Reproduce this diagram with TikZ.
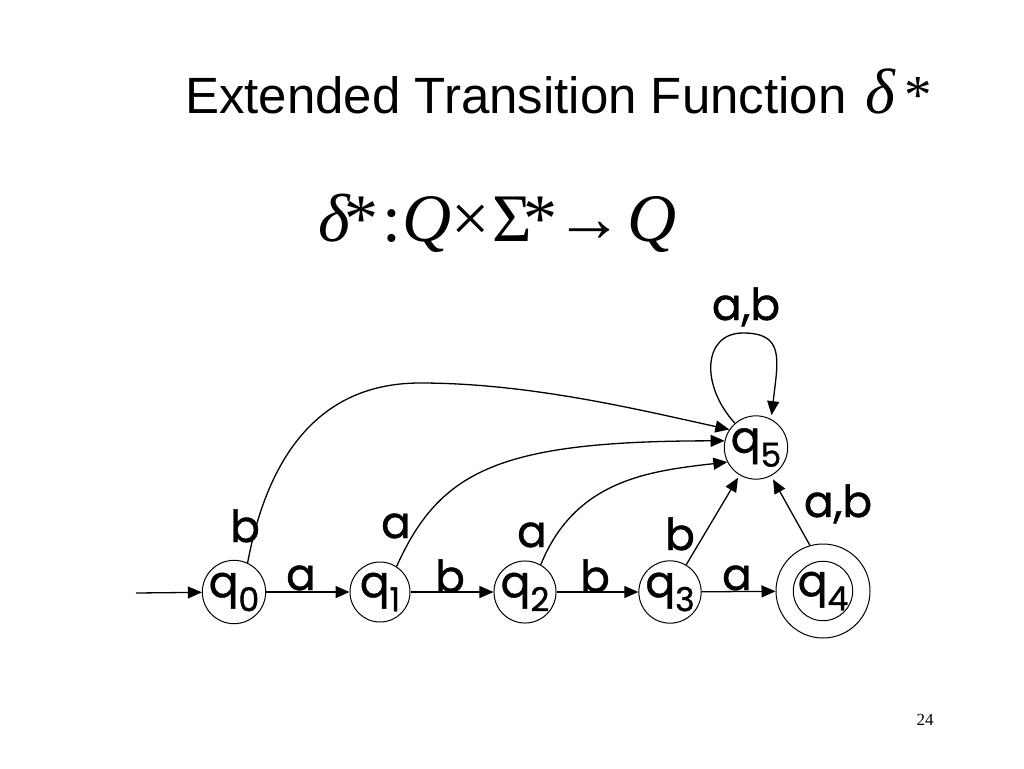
\documentclass[tikz,border=0pt]{standalone}
\usepackage{fontspec}
\setmainfont{Liberation Serif}
\newfontfamily\titlefont{Liberation Sans}
\newfontfamily\serifit{Liberation Serif}
\newfontfamily\lblfont{Poppins}[FakeBold=1]
\usetikzlibrary{arrows.meta}
\tikzset{
  state/.style={circle,draw,line width=1pt,minimum size=60pt,inner sep=0pt,font=\lblfont\fontsize{44}{44}\selectfont},
  edge/.style={line width=1.3pt,-{Triangle[length=14pt,width=12pt]}},
  lbl/.style={anchor=base,inner sep=0pt,font=\lblfont\fontsize{44}{44}\selectfont},
  fml/.style={anchor=base,inner sep=0pt,font=\serifit\fontsize{68}{68}\selectfont},
}
\newcommand{\qsub}[1]{q\raisebox{-14pt}{\fontsize{33}{33}\selectfont #1}}
\begin{document}
\begin{tikzpicture}[x=1pt,y=-1pt]
\useasboundingbox (0,0) rectangle (1024,768);
% title
\node[anchor=base west,inner sep=0pt,font=\titlefont\fontsize{51}{51}\selectfont] (title) at (185,113) {Extended Transition Function};
\node[anchor=base,inner sep=0pt,font=\serifit\fontsize{64}{64}\selectfont] (tdelta) at (880,113) {\itshape δ};
\node[anchor=base,inner sep=0pt,font=\serifit\fontsize{55}{55}\selectfont] (tast) at (918,113) {*};
% formula
\node[fml] (f1) at (334,241) {\itshape δ};
\node[fml] (f2) at (361,241) {*};
\node[fml] (f3) at (391.5,241) {:};
\node[fml] (f4) at (427.5,241) {\itshape Q};
\node[fml] (f5) at (470.5,241) {×};
\node[fml] (f6) at (512,241) {Σ};
\node[fml] (f7) at (540,241) {*};
\node[fml] (f8) at (589,241) {→};
\node[fml] (f9) at (652,241) {\itshape Q};
% states
\node[state] (q0) at (234,592) {\qsub{0}};
\node[state] (q1) at (380,592) {\qsub{1}};
\node[state] (q2) at (525,592) {\qsub{2}};
\node[state] (q3) at (670,592) {\qsub{3}};
\node[state,minimum size=94pt] (q4) at (823,591) {\qsub{4}};
\draw[line width=1pt] (q4.center) circle[radius=29.7pt];
\node[state] (q5) at (756,447.5) {\qsub{5}};
\coordinate (start) at (136,593);
% edges
\draw[edge] (start) -- (q0);
\draw[edge] (q0) -- (q1);
\draw[edge] (q1) -- (q2);
\draw[edge] (q2) -- (q3);
\draw[edge] (q3) -- (q4);
\draw[edge] (q0.65) .. controls (265,470) and (310,383) .. (420,383) .. controls (530,383) and (640,410) .. (q5.146);
\draw[edge] (q1.57) .. controls (440,470) and (500,441) .. (q5.168);
\draw[edge] (q2.60) .. controls (575,480) and (649,471) .. (q5.207);
\draw[edge,shorten >=3pt] (q3) -- (q5);
\draw[edge,shorten >=4pt] (q4.106) -- (q5.-62);
\draw[edge,shorten >=4pt] (q5.131) .. controls (700,385) and (703,333) .. (743,333) .. controls (785,333) and (778,360) .. (q5.62);
% labels
\node[lbl] (la01) at (301,590) {a};
\node[lbl] (lb12) at (450,592) {b};
\node[lbl] (lb23) at (595,592) {b};
\node[lbl] (la34) at (737,590) {a};
\node[lbl] (lb05) at (245,542) {b};
\node[lbl] (la15) at (396,538) {a};
\node[lbl] (la25) at (532,547) {a};
\node[lbl] (lb35) at (680,550) {b};
\node[lbl] (lab55) at (746,320) {a,b};
\node[lbl] (lab45) at (838,517) {a,b};
% page number
\node[anchor=base,inner sep=0pt,font=\fontsize{17}{17}\selectfont] (page) at (925,725) {24};
\end{tikzpicture}
\end{document}
